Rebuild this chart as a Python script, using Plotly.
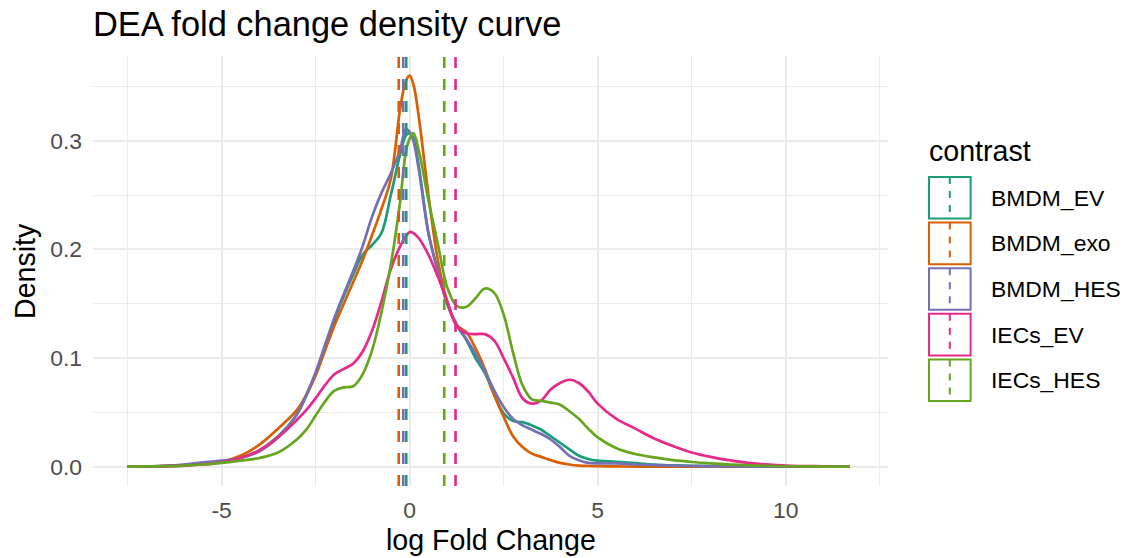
import plotly.graph_objects as go

# ---------------- data ----------------
contrasts = ["BMDM_EV", "BMDM_exo", "BMDM_HES", "IECs_EV", "IECs_HES"]
palette = ["#1B9E77", "#D95F02", "#7570B3", "#E7298A", "#66A61E"]

lfc = [-7.5, -7.0, -6.5, -6.0, -5.5, -5.0, -4.5, -4.0, -3.5, -3.0, -2.75, -2.5,
       -2.25, -2.0, -1.75, -1.5, -1.25, -1.0, -0.75, -0.5, -0.25, -0.1, 0.0, 0.1,
       0.25, 0.5, 0.75, 1.0, 1.25, 1.5, 1.75, 2.0, 2.25, 2.5, 2.75, 3.0, 3.25,
       3.5, 3.75, 4.0, 4.25, 4.5, 4.75, 5.0, 5.5, 6.0, 6.5, 7.0, 7.5, 8.0, 9.0,
       10.0, 11.0, 11.7]

bmdm_ev = [0.0, 0.0002, 0.0006, 0.0015, 0.003, 0.005, 0.008, 0.015, 0.028, 0.048, 0.065, 0.085,
           0.11, 0.135, 0.157, 0.177, 0.195, 0.204, 0.215, 0.25, 0.288, 0.305, 0.307, 0.302,
           0.275, 0.215, 0.18, 0.15, 0.13, 0.117, 0.1, 0.086, 0.066, 0.049, 0.042, 0.041, 0.038,
           0.034, 0.028, 0.022, 0.016, 0.01, 0.007, 0.0055, 0.0045, 0.0033, 0.0018, 0.0012, 0.0008, 0.0005, 0.0002,
           0.0001, 0.0, 0.0]

bmdm_exo = [0.0, 0.0002, 0.0006, 0.0012, 0.0025, 0.0045, 0.01, 0.02, 0.035, 0.052, 0.066, 0.084,
            0.107, 0.13, 0.15, 0.17, 0.19, 0.213, 0.237, 0.265, 0.33, 0.355, 0.36, 0.352,
            0.32, 0.25, 0.19, 0.152, 0.13, 0.124, 0.109, 0.09, 0.066, 0.046, 0.028, 0.018, 0.012,
            0.009, 0.006, 0.0035, 0.002, 0.001, 0.0006, 0.0004, 0.0002, 0.0001, 0.0, 0.0, 0.0, 0.0, 0.0,
            0.0, 0.0, 0.0]

bmdm_hes = [0.0, 0.0003, 0.0008, 0.002, 0.004, 0.0055, 0.008, 0.014, 0.027, 0.048, 0.066, 0.087,
            0.112, 0.137, 0.159, 0.18, 0.203, 0.23, 0.252, 0.27, 0.292, 0.311, 0.308, 0.3,
            0.272, 0.215, 0.18, 0.15, 0.131, 0.118, 0.104, 0.088, 0.07, 0.055, 0.044, 0.038, 0.034,
            0.03, 0.025, 0.018, 0.01, 0.006, 0.0035, 0.003, 0.003, 0.002, 0.0015, 0.001, 0.0006, 0.0003, 0.0001,
            0.0, 0.0, 0.0]

iecs_ev = [0.0, 0.0002, 0.0005, 0.001, 0.002, 0.004, 0.008, 0.015, 0.027, 0.043, 0.052, 0.063,
           0.075, 0.085, 0.09, 0.095, 0.106, 0.125, 0.152, 0.182, 0.203, 0.212, 0.216, 0.215,
           0.21, 0.195, 0.175, 0.152, 0.13, 0.123, 0.122, 0.122, 0.116, 0.1, 0.082, 0.063, 0.058,
           0.061, 0.071, 0.077, 0.08, 0.077, 0.069, 0.058, 0.044, 0.035, 0.026, 0.019, 0.013, 0.009, 0.0035,
           0.001, 0.0003, 0.0]

iecs_hes = [0.0, 0.0002, 0.0005, 0.001, 0.002, 0.0035, 0.0055, 0.008, 0.013, 0.025, 0.034, 0.047,
            0.06, 0.07, 0.073, 0.074, 0.085, 0.107, 0.142, 0.186, 0.245, 0.29, 0.302, 0.307,
            0.29, 0.245, 0.205, 0.165, 0.148, 0.147, 0.155, 0.164, 0.16, 0.14, 0.105, 0.075, 0.062,
            0.0605, 0.059, 0.057, 0.051, 0.044, 0.035, 0.027, 0.017, 0.0116, 0.0085, 0.006, 0.0043, 0.003, 0.0012,
            0.0004, 0.0001, 0.0]

density = [bmdm_ev, bmdm_exo, bmdm_hes, iecs_ev, iecs_hes]
mean_lfc = [-0.09, -0.29, -0.17, 1.22, 0.92]

x_tickvals = [-5, 0, 5, 10]
x_ticktext = ["-5", "0", "5", "10"]
y_tickvals = [0.0, 0.1, 0.2, 0.3]
y_ticktext = ["0.0", "0.1", "0.2", "0.3"]

# ---------------- layout constants ----------------
W, H = 1125, 558
L, R, T, B = 93, 237, 56, 72
PW, PH = W - L - R, H - T - B
FONT = "Liberation Sans, Arial, Helvetica, sans-serif"
GRID = "#EBEBEB"


def px_x(px):
    return (px - L) / PW


def px_y(py):
    return (H - B - py) / PH


fig = go.Figure()
for name, col, ys in zip(contrasts, palette, density):
    fig.add_trace(go.Scatter(
        x=lfc, y=ys, mode="lines", name=name,
        line=dict(color=col, width=2.7, shape="spline", smoothing=1.0),
        showlegend=False, hoverinfo="x+y+name"))

shapes = []
for col, m in zip(palette, mean_lfc):
    shapes.append(dict(type="line", xref="x", yref="paper", x0=m, x1=m, y0=0, y1=1,
                       line=dict(color=col, width=2.6, dash="11px,11px"), layer="above"))

# custom ggplot-like legend
key_left, key_w, key_top0, key_h, key_step = 929, 41.6, 177, 41.6, 45.6
annotations = [dict(text="contrast", xref="paper", yref="paper", x=px_x(927), y=px_y(151),
                    xanchor="left", yanchor="middle", showarrow=False,
                    font=dict(family=FONT, size=28.6, color="black"))]
for i, (name, col) in enumerate(zip(contrasts, palette)):
    top = key_top0 + i * key_step
    shapes.append(dict(type="rect", xref="paper", yref="paper",
                       x0=px_x(key_left), x1=px_x(key_left + key_w),
                       y0=px_y(top + key_h), y1=px_y(top),
                       line=dict(color=col, width=2), fillcolor="rgba(0,0,0,0)"))
    cx = key_left + key_w / 2
    shapes.append(dict(type="line", xref="paper", yref="paper",
                       x0=px_x(cx), x1=px_x(cx), y0=px_y(top), y1=px_y(top + key_h),
                       line=dict(color=col, width=2, dash="7px,7px")))
    annotations.append(dict(text=name, xref="paper", yref="paper",
                            x=px_x(989), y=px_y(top + key_h / 2),
                            xanchor="left", yanchor="middle", showarrow=False,
                            font=dict(family=FONT, size=22.9, color="black")))

# axis titles
annotations.append(dict(text="log Fold Change", xref="paper", yref="paper",
                        x=0.5, y=px_y(540), xanchor="center", yanchor="middle",
                        showarrow=False, font=dict(family=FONT, size=28.6, color="black")))
annotations.append(dict(text="Density", xref="paper", yref="paper",
                        x=px_x(25), y=0.5, xanchor="center", yanchor="middle", textangle=-90,
                        showarrow=False, font=dict(family=FONT, size=28.6, color="black")))

fig.update_layout(
    width=W, height=H,
    margin=dict(l=L, r=R, t=T, b=B, pad=0),
    paper_bgcolor="white", plot_bgcolor="white",
    title=dict(text="DEA fold change density curve", x=0, xanchor="left",
               xref="paper", y=1 - 24 / H, yanchor="middle",
               font=dict(family=FONT, size=34.4, color="black")),
    shapes=shapes, annotations=annotations,
    showlegend=False,
    xaxis=dict(range=[-8.42, 12.72], tickvals=x_tickvals, ticktext=x_ticktext,
               showgrid=True, gridcolor=GRID, gridwidth=2, zeroline=False, showline=False,
               ticks="", ticklabelstandoff=8,
               tickfont=dict(family=FONT, size=22.9, color="#4D4D4D"),
               minor=dict(dtick=2.5, tick0=-7.5, showgrid=True, gridcolor=GRID, gridwidth=1.1),
               fixedrange=True),
    yaxis=dict(range=[-0.0178, 0.378], tickvals=y_tickvals, ticktext=y_ticktext,
               showgrid=True, gridcolor=GRID, gridwidth=2, zeroline=False, showline=False,
               ticks="", ticklabelstandoff=10,
               tickfont=dict(family=FONT, size=22.9, color="#4D4D4D"),
               minor=dict(dtick=0.05, tick0=0, showgrid=True, gridcolor=GRID, gridwidth=1.1),
               fixedrange=True),
)

fig.write_html("out.html")
